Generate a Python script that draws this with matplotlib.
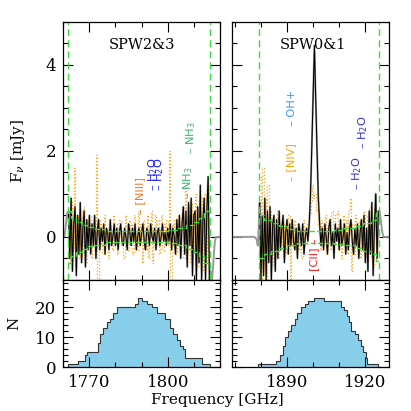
import numpy as np
import matplotlib
matplotlib.use("Agg")
import matplotlib.pyplot as plt
from matplotlib.ticker import MultipleLocator

plt.rcParams['font.family'] = 'DejaVu Serif'
plt.rcParams['mathtext.fontset'] = 'dejavuserif'

# ---- spectra inside the windows (0.5 GHz channels) ----
chan_step = 0.5
left_chan0 = 1762.0
right_chan0 = 1879.5

left_flux = [0.6, -0.5, 0.9, -0.8, 0.3, 0.7, -0.9, 0.5, -0.4, 0.8, -0.6, 0.2, 0.6, -0.7, 0.4, -0.3, 0.5,
             -0.4, 0.3, -0.2, 0.5, -0.5, 0.1, 0.4, -0.3, 0.2, -0.1, 0.3, -0.4, 0.2, 0.1, -0.3, 0.4, -0.2, 0.0, 0.3, -0.2,
             0.2, -0.3, 0.1, 0.3, -0.1, -0.2, 0.2, 0.0, -0.3, 0.3, 0.1, -0.2, 0.2, -0.1, 0.3, -0.3, 0.0, 0.2, -0.2, 0.1,
             0.3, -0.1, -0.3, 0.2, 0.1, -0.2, 0.3, 0.0, -0.1, 0.2, -0.3, 0.1, 0.2, -0.2, 0.0, 0.3, -0.1, 0.1, -0.2, 0.2,
             -0.1, 0.3, -0.3, 0.2, 0.0, -0.4, 0.4, -0.2, 0.5, -0.5, 0.3, 0.7, -0.4, 0.6, -0.7, 0.8, -0.2, 0.9, -0.9, 0.5,
             0.6, -1.0, 0.7, -0.6, 1.2, -1.0, 0.4, 0.9, -1.0, 0.6, 1.4, -1.0]

right_flux = [0.8, -1.0, 0.5, -0.9, 0.9, -1.0, 0.6, -0.6, 0.7, -1.0, 0.3, 0.5, -0.8, 0.4,
              -0.5, 0.6, -0.3, 0.2, 0.5, -0.6, 0.1, 0.4, -0.4, 0.3, -0.2, 0.4, -0.1, -0.3, 0.2, -0.5, 0.3, 0.1,
              -0.2, 0.3, -0.4, 0.0, 0.2, -0.1,
              0.3, 1.0, 2.1, 3.3, 4.45, 3.2, 2.0, 0.9, 0.3,
              -0.2, 0.2, -0.3, 0.3, 0.0, -0.4, 0.2, 0.4, -0.2, 0.1, -0.5, 0.3, -0.1, 0.2, -0.3, 0.4, -0.2, 0.0,
              0.3, -0.4, 0.1, -0.3, 0.2, 0.4, -0.1, -0.4, 0.2, -0.2, 0.3, -0.5, 0.1,
              0.4, -0.3, 0.5, -0.6, 0.2, -0.8, 0.6, -0.4, 0.8, -0.9, 0.3, 1.0, -0.5, 0.6]

# grey spectrum outside the windows
left_out_lo_f = [1760.0, 1760.5, 1761.0, 1761.5]
left_out_lo_v = [0.0, 0.02, 0.3, 0.55]
left_out_hi_f = [1816.5, 1817.0, 1817.5, 1818.0, 1818.5, 1820.0]
left_out_hi_v = [-0.8, -1.0, -0.6, -0.15, 0.0, 0.0]
right_out_lo_f = [1869.0, 1877.5, 1878.3, 1878.8, 1879.2]
right_out_lo_v = [0.0, 0.0, -0.05, -0.2, 0.3]
right_out_hi_f = [1925.5, 1926.0, 1926.5, 1927.0, 1929.0]
right_out_hi_v = [0.6, 0.35, 0.1, 0.0, 0.0]

# orange dotted spectrum
left_orange0 = 1762.25
right_orange0 = 1879.75
left_orange = [0.4, -0.6, 0.8, -0.3, 1.6, -0.7, 0.5, 0.2, -0.5, 0.6,
               -0.4, 0.7, 0.1, -0.6, 0.4, -0.2, 0.5, -0.5, 0.3, 0.2,
               -0.3, 1.9, -1.0, 0.4, -0.2, 0.3, -0.4, 0.5, -0.1, 0.2,
               -0.5, 0.4, 0.0, -0.3, 0.5, -0.2, 0.3, -0.4, 0.2, 0.4,
               -0.2, 0.1, -0.5, 0.5, 0.2, -0.3, 0.4, -0.1, 0.3, -0.4,
               0.5, 0.1, -0.3, 0.6, -0.2, 0.3, -0.6, 0.4, 0.2, -0.3,
               0.5, -0.5, 0.3, 0.6, -0.6, 0.1, 0.5, -0.2, 0.4, -0.4,
               0.2, 0.5, -0.3, 0.3, -0.1, 0.4, -0.2, 2.0, -1.0, 0.3,
               -0.2, 0.4, -0.4, 0.1, 0.5, -0.3, 0.2, 0.6, -0.5, 1.2,
               -0.4, 0.7, 0.2, -0.6, 0.8, -0.3, 0.5, 1.0, -0.7, 0.6,
               -0.5, 0.9, 0.3, -0.8, 1.0, 0.4, -0.6, 0.8]
right_orange = [1.4, -1.0, 1.6, -0.8, 0.9, -1.0, 1.2, -0.5, 0.6, -0.7,
                0.5, -0.4, 0.3, 0.6, -0.5, 0.2, -0.3, 0.4, -0.2, 0.3,
                -0.4, 0.2, 0.5, -1.0, 0.3, -0.2, 0.4, -0.3, 0.1, 0.3,
                -0.3, 0.2, -0.5, 0.4, 0.0, -0.2, 0.3, 0.1, 0.5, 0.8,
                1.2, 0.9, 1.0, 0.6, 0.7, 0.3, -0.3, 0.4, -0.2, 0.2,
                0.5, -0.4, 0.2, 0.4, -0.3, 0.6, 0.1, -0.2, 0.5, 0.6,
                -0.3, 0.3, -0.5, 0.2, 0.5, -0.2, 0.4, -0.4, 0.6, 0.9,
                -0.8, 0.3, -0.4, 0.5, 0.2, -0.3, 0.4, -0.5, 0.3, 0.6,
                -0.4, 0.5, -0.6, 0.3, 0.7, -0.5, 0.4, -0.7, 0.6, 0.5, -0.3]

# noise envelope (1 sigma)
left_env_f = [1761.8, 1763, 1765, 1767, 1769, 1772, 1776, 1800, 1804, 1807, 1810, 1812, 1814, 1816.2]
left_env_s = [0.6, 0.45, 0.35, 0.28, 0.22, 0.18, 0.13, 0.15, 0.2, 0.28, 0.35, 0.45, 0.6, 0.6]
right_env_f = [1879.3, 1881, 1884, 1887, 1890, 1894, 1908, 1912, 1916, 1919, 1922, 1924, 1925.3]
right_env_s = [0.5, 0.4, 0.32, 0.25, 0.18, 0.14, 0.16, 0.2, 0.25, 0.32, 0.4, 0.55, 0.55]

left_window = [1761.8, 1816.2]
right_window = [1879.3, 1925.3]

# line labels
left_names = ["– [NIII]", "– H$_\\mathregular{2}$O", "– H$_\\mathregular{2}$O", "– NH$_\\mathregular{3}$", "– NH$_\\mathregular{3}$"]
left_freqs = [1789.4, 1794.5, 1796.8, 1808.0, 1809.0]
left_ypos = [0.53, 1.07, 1.07, 0.88, 1.93]
left_cols = ["#f07a2a", "#1a1aff", "#1a1aff", "#3cb371", "#3cb371"]
right_names = ["– [NIV]", "– OH+", "– H$_\\mathregular{2}$O", "– H$_\\mathregular{2}$O"]
right_freqs = [1891.4, 1892.0, 1916.8, 1919.0]
right_ypos = [1.31, 2.58, 1.08, 2.05]
right_cols = ["#ffa500", "#3399ff", "#3030e0", "#3030e0"]
cii_name, cii_freq, cii_y = "[CII] –", 1900.5, -0.02

# stacked-spectra counts
left_hist_edges = [1761.9, 1765.7, 1768.3, 1769.0, 1773.4, 1774.1, 1775.3, 1776.6, 1777.9, 1779.2, 1780.5,
                   1787.5, 1788.5, 1790.3, 1792.0, 1793.9, 1795.8, 1797.0, 1799.0, 1800.9, 1802.1, 1803.4,
                   1804.7, 1806.0, 1806.6, 1813.0, 1816.2]
left_hist_n = [1, 2, 4, 5, 8, 11, 13, 15, 16, 18, 20, 21, 23, 22, 21, 20, 18, 18, 16, 13, 11, 9, 7, 6, 3, 1]
right_hist_edges = [1878.9, 1885.9, 1887.2, 1888.4, 1889.1, 1890.3, 1891.6, 1892.9, 1893.9, 1895.2, 1896.7,
                    1898.0, 1900.3, 1904.1, 1910.7, 1911.7, 1913.0, 1913.9, 1914.7, 1916.0, 1917.3, 1918.3,
                    1919.3, 1920.2, 1920.8, 1924.7]
right_hist_n = [1, 2, 4, 7, 10, 12, 14, 16, 18, 20, 21, 22, 23, 22, 20, 19, 17, 15, 12, 11, 9, 7, 5, 3, 1]

green = "#3ddc3d"

fig = plt.figure(figsize=(4.11, 4.11), dpi=100)
ax_tl = fig.add_axes([0.154, 0.319, 0.381, 0.628])
ax_tr = fig.add_axes([0.565, 0.319, 0.381, 0.628])
ax_bl = fig.add_axes([0.154, 0.1063, 0.381, 0.2124])
ax_br = fig.add_axes([0.565, 0.1063, 0.381, 0.2124])


def spectrum_panel(ax, chan0, flux, lo_f, lo_v, hi_f, hi_v, or0, orange, env_f, env_s, window):
    f = chan0 + chan_step * np.arange(len(flux))
    fo = or0 + chan_step * np.arange(len(orange))
    grey_f = np.concatenate([lo_f, f, hi_f])
    grey_v = np.concatenate([lo_v, flux, hi_v])
    ax.plot(grey_f, grey_v, color='0.6', lw=1.4)
    ax.plot(fo, orange, color='#ffa31a', ls=':', lw=0.9, drawstyle='steps-mid')
    ax.plot(f, flux, color='k', lw=0.75)
    s = np.array(env_s)
    ax.plot(env_f, s, color=green, ls='--', lw=1.0, drawstyle='steps-post')
    ax.plot(env_f, -s, color=green, ls='--', lw=1.0, drawstyle='steps-post')
    for w in window:
        ax.axvline(w, color=green, ls=(0, (5, 3)), lw=1.0)
    ax.set_ylim(-1, 5)
    ax.yaxis.set_major_locator(MultipleLocator(2))
    ax.yaxis.set_minor_locator(MultipleLocator(0.5))
    ax.tick_params(labelbottom=False)


def hist_panel(ax, edges, n):
    ax.stairs(n, edges, fill=True, color='skyblue')
    ax.stairs(n, edges, color='0.2', lw=0.8)
    ax.set_ylim(0, 29)
    ax.yaxis.set_major_locator(MultipleLocator(10))
    ax.yaxis.set_minor_locator(MultipleLocator(2))


spectrum_panel(ax_tl, left_chan0, left_flux, left_out_lo_f, left_out_lo_v, left_out_hi_f, left_out_hi_v,
               left_orange0, left_orange, left_env_f, left_env_s, left_window)
spectrum_panel(ax_tr, right_chan0, right_flux, right_out_lo_f, right_out_lo_v, right_out_hi_f, right_out_hi_v,
               right_orange0, right_orange, right_env_f, right_env_s, right_window)
hist_panel(ax_bl, left_hist_edges, left_hist_n)
hist_panel(ax_br, right_hist_edges, right_hist_n)

for ax in (ax_tl, ax_bl):
    ax.set_xlim(1760, 1820)
for ax in (ax_tr, ax_br):
    ax.set_xlim(1869, 1929)
    ax.tick_params(labelleft=False)

for ax in (ax_tl, ax_tr, ax_bl, ax_br):
    ax.xaxis.set_major_locator(MultipleLocator(30))
    ax.xaxis.set_minor_locator(MultipleLocator(10))
    ax.tick_params(which='both', direction='in', top=True, right=True, width=0.8)
    ax.tick_params(which='major', length=7, labelsize=12, pad=5)
    ax.tick_params(which='minor', length=3.5)
    for sp in ax.spines.values():
        sp.set_linewidth(0.9)

for name, fr, y, c in zip(left_names, left_freqs, left_ypos, left_cols):
    ax_tl.text(fr, y, name, rotation=90, ha='center', va='bottom', color=c, fontsize=8.2, family='DejaVu Sans')
for name, fr, y, c in zip(right_names, right_freqs, right_ypos, right_cols):
    ax_tr.text(fr, y, name, rotation=90, ha='center', va='bottom', color=c, fontsize=8.2, family='DejaVu Sans')
ax_tr.text(cii_freq, cii_y, cii_name, rotation=90, ha='center', va='top', color='#ff2020', fontsize=8.2,
           family='DejaVu Sans')

ax_tl.text(0.5, 0.911, "SPW2&3", transform=ax_tl.transAxes, ha='center', va='center', fontsize=10.5)
ax_tr.text(0.515, 0.911, "SPW0&1", transform=ax_tr.transAxes, ha='center', va='center', fontsize=10.5)

ax_tl.set_ylabel("F$_\\nu$ [mJy]", fontsize=11)
ax_tl.yaxis.set_label_coords(-0.23, 0.5)
ax_bl.set_ylabel("N", fontsize=11)
ax_bl.yaxis.set_label_coords(-0.27, 0.5)
fig.text(0.529, 0.027, "Frequency [GHz]", ha='center', va='center', fontsize=11)

fig.savefig('out.png', dpi=100)
